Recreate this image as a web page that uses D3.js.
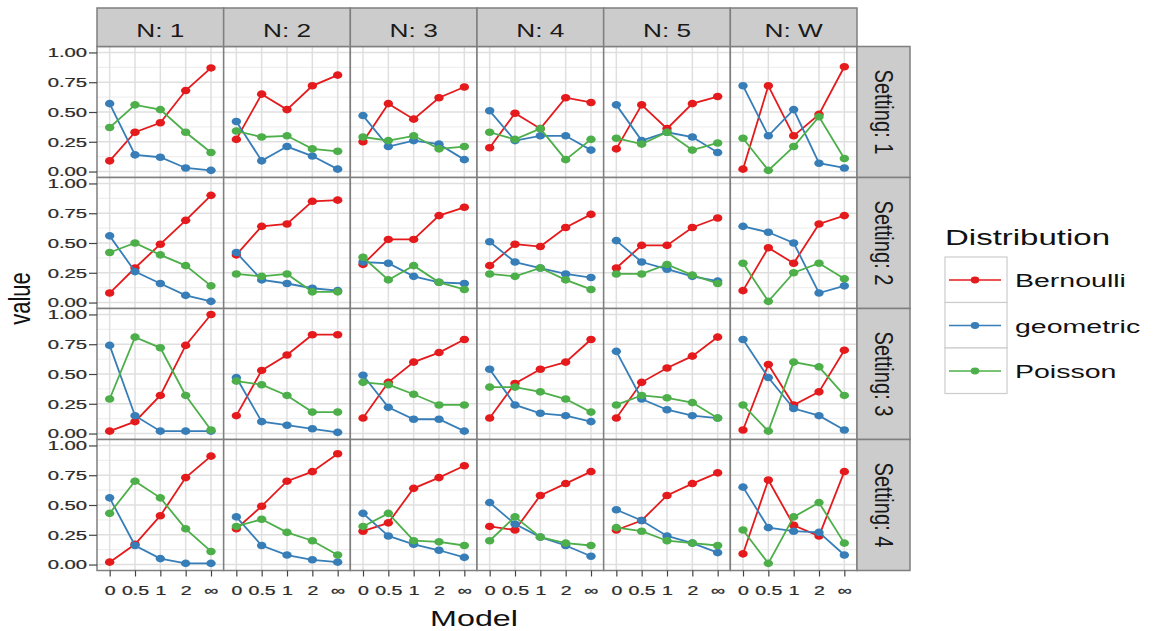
<!DOCTYPE html>
<html>
<head>
<meta charset="utf-8">
<script src="https://cdn.jsdelivr.net/npm/d3@7"></script>
<style>
  body { margin: 0; background: #fff; }
  svg { display: block; }
  text { font-family: Arial, "Liberation Sans", sans-serif; }
</style>
</head>
<body>
<svg id="chart"></svg>
<script>
const models = ["0", "0.5", "1", "2", "∞"];
const nLevels = ["1", "2", "3", "4", "5", "W"];
const settings = ["1", "2", "3", "4"];
const distributions = ["Bernoulli", "geometric", "Poisson"];
const colors = ["#E41A1C", "#377EB8", "#4DAF4A"];
const yTicks = [0, 0.25, 0.5, 0.75, 1];

// values indexed [setting][N], one value per model
const bernoulli = [
    [[0.09, 0.33, 0.41, 0.68, 0.87], [0.27, 0.65, 0.52, 0.72, 0.81], [0.25, 0.57, 0.44, 0.62, 0.71],
     [0.20, 0.49, 0.36, 0.62, 0.58], [0.19, 0.56, 0.36, 0.57, 0.63], [0.02, 0.72, 0.30, 0.48, 0.88]],
    [[0.08, 0.29, 0.49, 0.69, 0.90], [0.40, 0.64, 0.66, 0.85, 0.86], [0.32, 0.53, 0.53, 0.73, 0.80],
     [0.31, 0.49, 0.47, 0.63, 0.74], [0.29, 0.48, 0.48, 0.63, 0.71], [0.10, 0.46, 0.33, 0.66, 0.73]],
    [[0.02, 0.10, 0.32, 0.74, 1.00], [0.15, 0.53, 0.66, 0.83, 0.83], [0.13, 0.43, 0.60, 0.68, 0.79],
     [0.13, 0.42, 0.54, 0.60, 0.79], [0.13, 0.43, 0.55, 0.65, 0.81], [0.03, 0.58, 0.24, 0.35, 0.70]],
    [[0.02, 0.17, 0.41, 0.73, 0.91], [0.30, 0.49, 0.70, 0.78, 0.93], [0.28, 0.35, 0.64, 0.73, 0.83],
     [0.32, 0.29, 0.58, 0.68, 0.78], [0.29, 0.37, 0.58, 0.68, 0.77], [0.09, 0.71, 0.33, 0.24, 0.78]]
];
const geometric = [
    [[0.57, 0.14, 0.12, 0.03, 0.01], [0.42, 0.09, 0.21, 0.13, 0.02], [0.47, 0.21, 0.26, 0.23, 0.10],
     [0.51, 0.26, 0.30, 0.30, 0.18], [0.56, 0.26, 0.33, 0.29, 0.16], [0.72, 0.30, 0.52, 0.07, 0.03]],
    [[0.56, 0.26, 0.16, 0.06, 0.01], [0.42, 0.19, 0.16, 0.12, 0.10], [0.34, 0.33, 0.22, 0.17, 0.16],
     [0.51, 0.34, 0.29, 0.24, 0.21], [0.52, 0.34, 0.28, 0.22, 0.18], [0.64, 0.59, 0.50, 0.08, 0.14]],
    [[0.74, 0.15, 0.02, 0.02, 0.02], [0.47, 0.10, 0.07, 0.04, 0.01], [0.49, 0.22, 0.12, 0.12, 0.02],
     [0.54, 0.24, 0.17, 0.15, 0.10], [0.69, 0.29, 0.20, 0.15, 0.13], [0.79, 0.47, 0.21, 0.15, 0.03]],
    [[0.56, 0.16, 0.05, 0.01, 0.01], [0.40, 0.16, 0.08, 0.04, 0.02], [0.43, 0.24, 0.17, 0.12, 0.06],
     [0.52, 0.34, 0.23, 0.16, 0.07], [0.46, 0.37, 0.24, 0.18, 0.10], [0.65, 0.31, 0.28, 0.27, 0.08]]
];
const poisson = [
    [[0.37, 0.56, 0.52, 0.33, 0.16], [0.34, 0.29, 0.30, 0.19, 0.17], [0.29, 0.26, 0.30, 0.19, 0.21],
     [0.33, 0.27, 0.36, 0.10, 0.27], [0.28, 0.23, 0.33, 0.18, 0.24], [0.28, 0.01, 0.21, 0.46, 0.11]],
    [[0.42, 0.50, 0.40, 0.31, 0.14], [0.24, 0.22, 0.24, 0.09, 0.09], [0.38, 0.19, 0.31, 0.17, 0.11],
     [0.24, 0.22, 0.29, 0.19, 0.11], [0.24, 0.24, 0.32, 0.23, 0.16], [0.33, 0.01, 0.25, 0.33, 0.20]],
    [[0.29, 0.81, 0.72, 0.32, 0.03], [0.44, 0.41, 0.32, 0.18, 0.18], [0.43, 0.41, 0.33, 0.24, 0.24],
     [0.39, 0.39, 0.35, 0.29, 0.18], [0.24, 0.32, 0.30, 0.26, 0.13], [0.24, 0.02, 0.60, 0.56, 0.32]],
    [[0.43, 0.70, 0.56, 0.30, 0.11], [0.32, 0.38, 0.27, 0.20, 0.08], [0.32, 0.43, 0.20, 0.19, 0.16],
     [0.20, 0.40, 0.23, 0.18, 0.16], [0.31, 0.28, 0.20, 0.18, 0.16], [0.29, 0.01, 0.40, 0.52, 0.18]]
];
const seriesData = [bernoulli, geometric, poisson];

const width = 1155;
const height = 631;
const sx = 1.5; // the picture is stretched sideways, text follows it
const plotLeft = 97;
const plotTop = 46.5;
const panelW = (857 - 97) / 6;
const panelH = 131;
const stripTop = 8;
const stripW = 53;
const plotRight = plotLeft + panelW * nLevels.length;
const plotBottom = plotTop + panelH * settings.length;

const svg = d3.select("#chart")
    .attr("width", width)
    .attr("height", height);

const x = d3.scalePoint()
    .domain(models)
    .range([0, panelW])
    .padding(0.5);

const y = d3.scaleLinear()
    .domain([-0.05, 1.05])
    .range([panelH, 0]);

const line = d3.line()
    .x((d, i) => x(models[i]))
    .y(d => y(d));

// panels
settings.forEach((s, r) => {
    nLevels.forEach((n, c) => {
        const g = svg.append("g")
            .attr("transform", `translate(${plotLeft + c * panelW},${plotTop + r * panelH})`);

        g.append("rect")
            .attr("width", panelW)
            .attr("height", panelH)
            .attr("fill", "white");

        g.append("g")
            .selectAll("line")
            .data(d3.range(0.125, 1, 0.25))
            .join("line")
            .attr("x1", 0).attr("x2", panelW)
            .attr("y1", d => y(d)).attr("y2", d => y(d))
            .attr("stroke", "#EFEFEF")
            .attr("stroke-width", 1.1);

        g.append("g")
            .selectAll("line")
            .data(yTicks)
            .join("line")
            .attr("x1", 0).attr("x2", panelW)
            .attr("y1", d => y(d)).attr("y2", d => y(d))
            .attr("stroke", "#DFDFDF")
            .attr("stroke-width", 1.5);

        g.append("g")
            .selectAll("line")
            .data(models)
            .join("line")
            .attr("x1", d => x(d)).attr("x2", d => x(d))
            .attr("y1", 0).attr("y2", panelH)
            .attr("stroke", "#DFDFDF")
            .attr("stroke-width", 1.5);

        seriesData.forEach((data, k) => {
            const vals = data[r][c];
            g.append("path")
                .datum(vals)
                .attr("d", line)
                .attr("fill", "none")
                .attr("stroke", colors[k])
                .attr("stroke-width", 1.8);

            g.append("g")
                .selectAll("ellipse")
                .data(vals)
                .join("ellipse")
                .attr("cx", (d, i) => x(models[i]))
                .attr("cy", d => y(d))
                .attr("rx", 4.7)
                .attr("ry", 3.8)
                .attr("fill", colors[k]);
        });

        g.append("rect")
            .attr("width", panelW)
            .attr("height", panelH)
            .attr("fill", "none")
            .attr("stroke", "#7F7F7F")
            .attr("stroke-width", 1.5);
    });
});

// y axes, one per row
settings.forEach((s, r) => {
    const ax = svg.append("g")
        .attr("transform", `translate(${plotLeft},${plotTop + r * panelH})`)
        .call(d3.axisLeft(y)
            .tickValues(yTicks)
            .tickFormat(d3.format(".2f"))
            .tickSize(8)
            .tickPadding(2));
    ax.select(".domain").remove();
    ax.selectAll(".tick line").attr("stroke", "#444").attr("stroke-width", 1.2);
    ax.selectAll("text")
        .attr("x", -10 / sx)
        .attr("transform", `scale(${sx},1)`)
        .attr("fill", "#2b2b2b")
        .attr("stroke", "#2b2b2b")
        .attr("stroke-width", 0.25)
        .style("font-size", "13.5px");
});

// x axes, one per column
nLevels.forEach((n, c) => {
    const ax = svg.append("g")
        .attr("transform", `translate(${plotLeft + c * panelW},${plotBottom})`)
        .call(d3.axisBottom(x)
            .tickSize(6)
            .tickPadding(9));
    ax.select(".domain").remove();
    ax.selectAll(".tick line").attr("stroke", "#444").attr("stroke-width", 1.2);
    ax.selectAll("text")
        .attr("transform", `scale(${sx},1)`)
        .attr("fill", "#2b2b2b")
        .attr("stroke", "#2b2b2b")
        .attr("stroke-width", 0.25)
        .style("font-size", "13px");
});

// top strips
nLevels.forEach((n, c) => {
    const g = svg.append("g")
        .attr("transform", `translate(${plotLeft + c * panelW},${stripTop})`);
    g.append("rect")
        .attr("width", panelW)
        .attr("height", plotTop - stripTop)
        .attr("fill", "#CCCCCC")
        .attr("stroke", "#7F7F7F")
        .attr("stroke-width", 1.5);
    g.append("text")
        .attr("transform", `translate(${panelW / 2},28.5) scale(${sx},1)`)
        .attr("text-anchor", "middle")
        .attr("fill", "#1a1a1a")
        .style("font-size", "17.5px")
        .text(`N: ${n}`);
});

// right strips
settings.forEach((s, r) => {
    const g = svg.append("g")
        .attr("transform", `translate(${plotRight},${plotTop + r * panelH})`);
    g.append("rect")
        .attr("width", stripW)
        .attr("height", panelH)
        .attr("fill", "#CCCCCC")
        .attr("stroke", "#7F7F7F")
        .attr("stroke-width", 1.5);
    g.append("text")
        .attr("transform", `translate(${stripW / 2 - 9},${panelH / 2}) rotate(90) scale(1.15,${sx})`)
        .attr("text-anchor", "middle")
        .attr("fill", "#1a1a1a")
        .style("font-size", "17.5px")
        .text(`Setting: ${s}`);
});

// axis titles
svg.append("text")
    .attr("transform", `translate(${(plotLeft + plotRight) / 2 - 3},626) scale(${sx},1)`)
    .attr("text-anchor", "middle")
    .attr("fill", "#111")
    .style("font-size", "21.5px")
    .text("Model");

svg.append("text")
    .attr("transform", `translate(30,${(plotTop + plotBottom) / 2 - 10}) rotate(-90) scale(1.1,${sx})`)
    .attr("text-anchor", "middle")
    .attr("fill", "#111")
    .style("font-size", "20px")
    .text("value");

// legend
const legend = svg.append("g")
    .attr("transform", "translate(945,245)");

legend.append("text")
    .attr("transform", `scale(${sx},1)`)
    .attr("fill", "#111")
    .style("font-size", "22px")
    .text("Distribution");

const keys = legend.selectAll(".key")
    .data(distributions)
    .join("g")
    .attr("class", "key")
    .attr("transform", (d, i) => `translate(0,${12 + i * 45.5})`);

keys.append("rect")
    .attr("width", 62)
    .attr("height", 45.5)
    .attr("fill", "white")
    .attr("stroke", "#CCCCCC")
    .attr("stroke-width", 1.2);

keys.append("line")
    .attr("x1", 4).attr("x2", 56)
    .attr("y1", 23).attr("y2", 23)
    .attr("stroke", (d, i) => colors[i])
    .attr("stroke-width", 1.6);

keys.append("ellipse")
    .attr("cx", 30).attr("cy", 23)
    .attr("rx", 4.3).attr("ry", 3.4)
    .attr("fill", (d, i) => colors[i]);

keys.append("text")
    .attr("transform", `translate(70,30) scale(${sx},1)`)
    .attr("fill", "#111")
    .style("font-size", "19px")
    .text(d => d);
</script>
</body>
</html>
